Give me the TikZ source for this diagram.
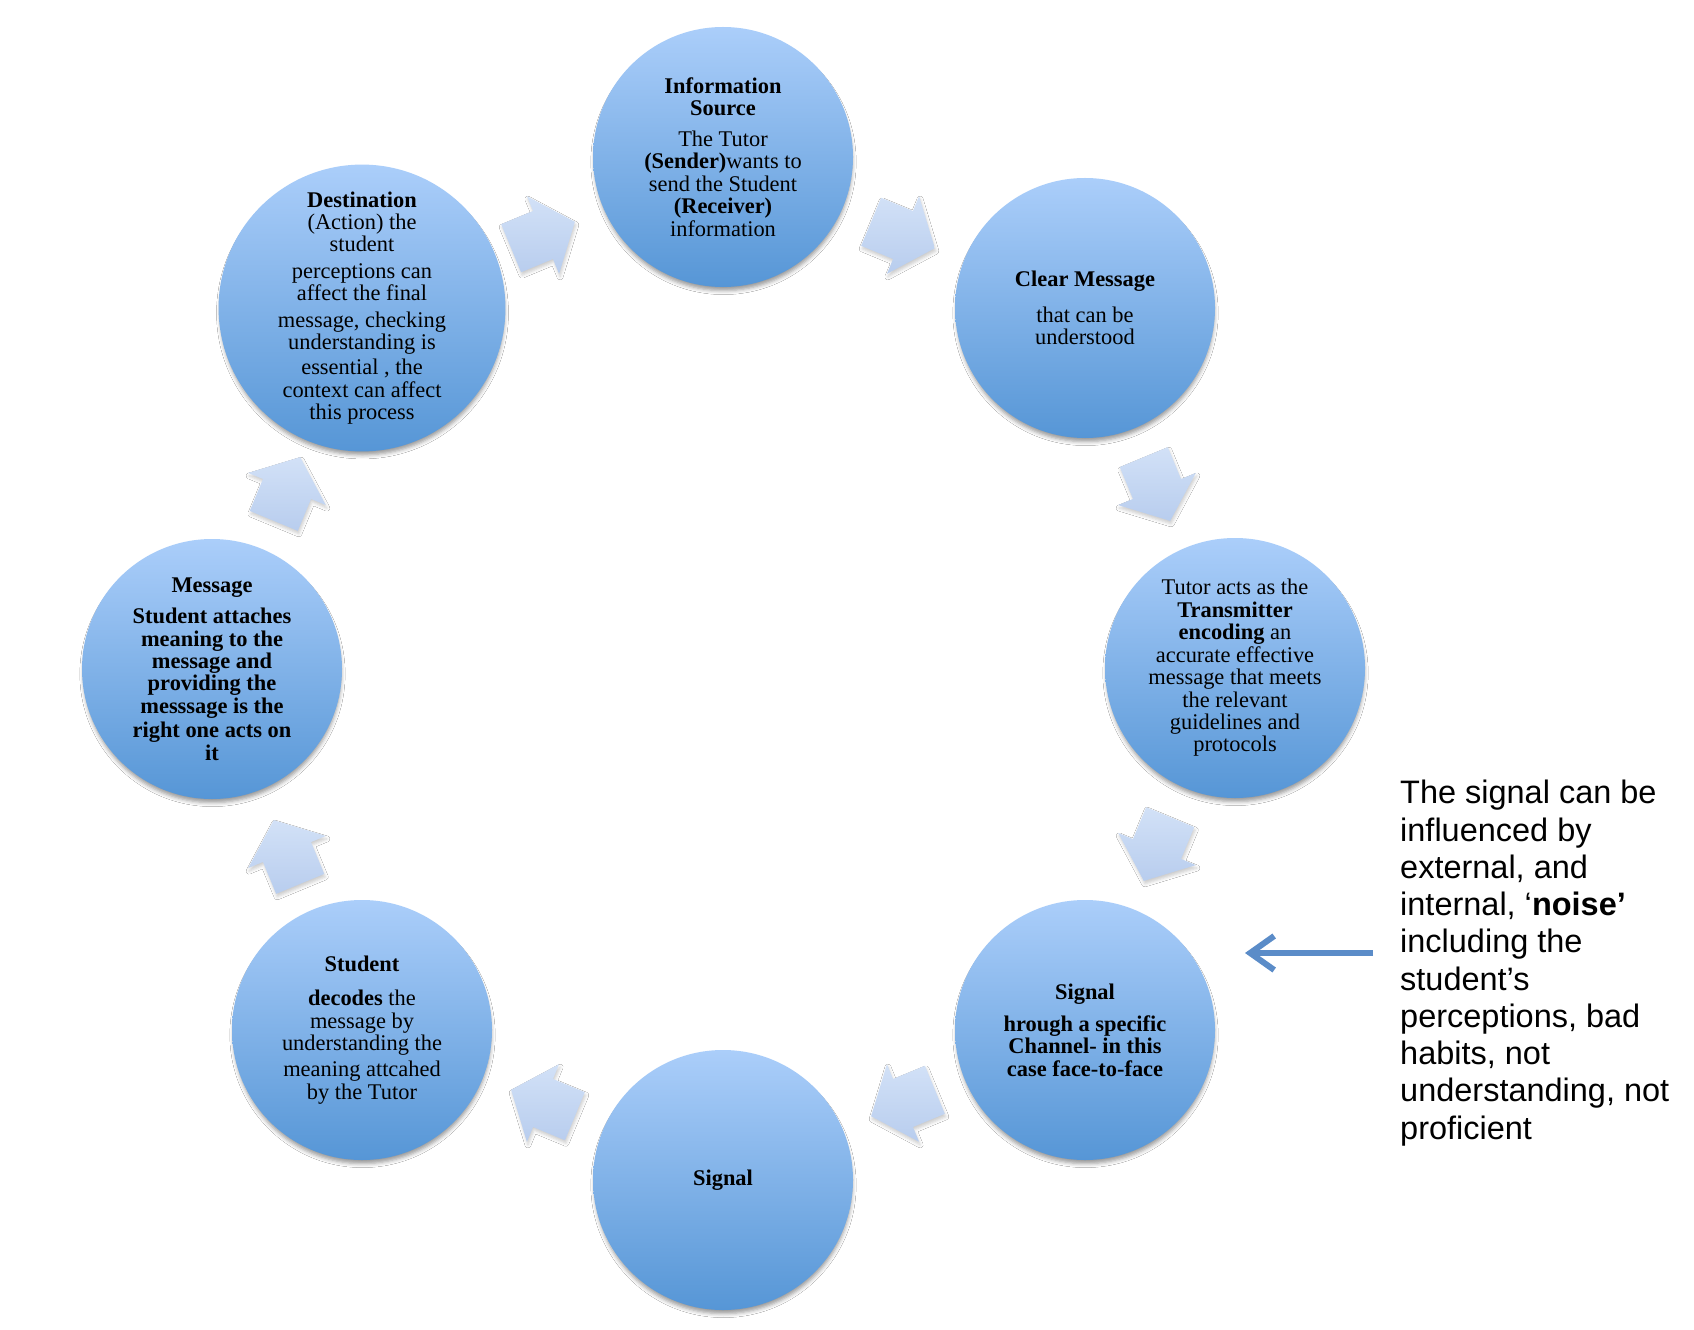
\documentclass[tikz,border=0pt]{standalone}
\usepackage{fontspec}
\setmainfont{Liberation Serif}
\newfontfamily\arialf{Liberation Sans}
\usetikzlibrary{shadows.blur,arrows.meta}
\definecolor{ctop}{RGB}{171,206,250}
\definecolor{cbot}{RGB}{86,150,214}
\definecolor{atop}{RGB}{210,225,247}
\definecolor{abot}{RGB}{184,205,238}
\definecolor{noiseblue}{RGB}{91,140,200}
\begin{document}
\begin{tikzpicture}[x=1bp,y=-1bp,
  circ/.style={circle, minimum size=260bp, inner sep=0pt, top color=ctop, bottom color=cbot,
    draw=none, align=center, text=black, font=\fontsize{22.5}{22.5}\selectfont,
    blur shadow={shadow xshift=0.5bp, shadow yshift=-5bp, shadow scale=0.99, shadow blur radius=4bp, shadow opacity=40}},
  cyc/.pic={\path[top color=atop, bottom color=abot,
      blur shadow={shadow xshift=1bp, shadow yshift=-3bp, shadow blur radius=3bp, shadow opacity=20}]
      (-34.5,-26) -- (0,-26) -- (0,-42) -- (34.5,0) -- (0,42) -- (0,26) -- (-34.5,26) -- cycle;},
  noisetext/.style={anchor=north west, inner sep=0pt, align=left, text=black,
    font=\arialf\fontsize{32.6}{37.4}\selectfont},
  noisearrow/.style={draw=noiseblue, line width=6bp, -{Straight Barb[length=24bp,width=34bp]}}
]
\fill[white] (0,0) rectangle (1694,1330);
\useasboundingbox (0,0) rectangle (1694,1330);

% block arrows of the cycle
\pic[rotate=-22.5] at (903,235) {cyc};
\pic[rotate=-67.5] at (1157,489) {cyc};
\pic[rotate=-112.5] at (1157,849) {cyc};
\pic[rotate=-157.5] at (903,1103) {cyc};
\pic[rotate=157.5] at (543,1103) {cyc};
\pic[rotate=112.5] at (287,852) {cyc};
\pic[rotate=67.5] at (287,489) {cyc};
\pic[rotate=22.5] at (543,235) {cyc};

% circles
\node[circ] (src) at (723,157) {\textbf{Information}\\\textbf{Source}\\[8bp]The Tutor\\\textbf{(Sender)}wants to\\send the Student\\\textbf{(Receiver)}\\information};
\node[circ] (clr) at (1085,308) {\textbf{Clear Message}\\[13bp]that can be\\understood};
\node[circ] (trn) at (1235,668) {Tutor acts as the\\\textbf{Transmitter}\\\textbf{encoding} an\\accurate effective\\message that meets\\the relevant\\guidelines and\\protocols};
\node[circ] (chn) at (1085,1030) {\textbf{Signal}\\[10bp]\textbf{hrough a specific}\\\textbf{Channel- in this}\\\textbf{case face-to-face}};
\node[circ] (sig) at (723,1180) {\textbf{Signal}};
\node[circ] (stu) at (362,1030) {\textbf{Student}\\[12bp]\textbf{decodes} the\\message by\\understanding the\\[4bp]meaning attcahed\\by the Tutor};
\node[circ] (msg) at (212,669) {\textbf{Message}\\[9bp]\textbf{Student attaches}\\\textbf{meaning to the}\\\textbf{message and}\\\textbf{providing the}\\\textbf{messsage is the}\\[2bp]\textbf{right one acts on}\\\textbf{it}};
\node[circ] (dst) at (362,308) {\textbf{Destination}\\(Action) the\\student\\[4bp]perceptions can\\affect the final\\[4bp]message, checking\\understanding is\\[3bp]essential , the\\context can affect\\this process};

% noise annotation
\node[noisetext] (noise) at (1400,780) {The signal can be\\influenced by\\external, and\\internal, ‘\textbf{noise’}\\including the\\student’s\\perceptions, bad\\habits, not\\understanding, not\\proficient};
\coordinate (ns) at (1373,953);
\coordinate (ne) at (1245,953);
\draw[noisearrow] (ns) -- (ne);
\end{tikzpicture}
\end{document}
